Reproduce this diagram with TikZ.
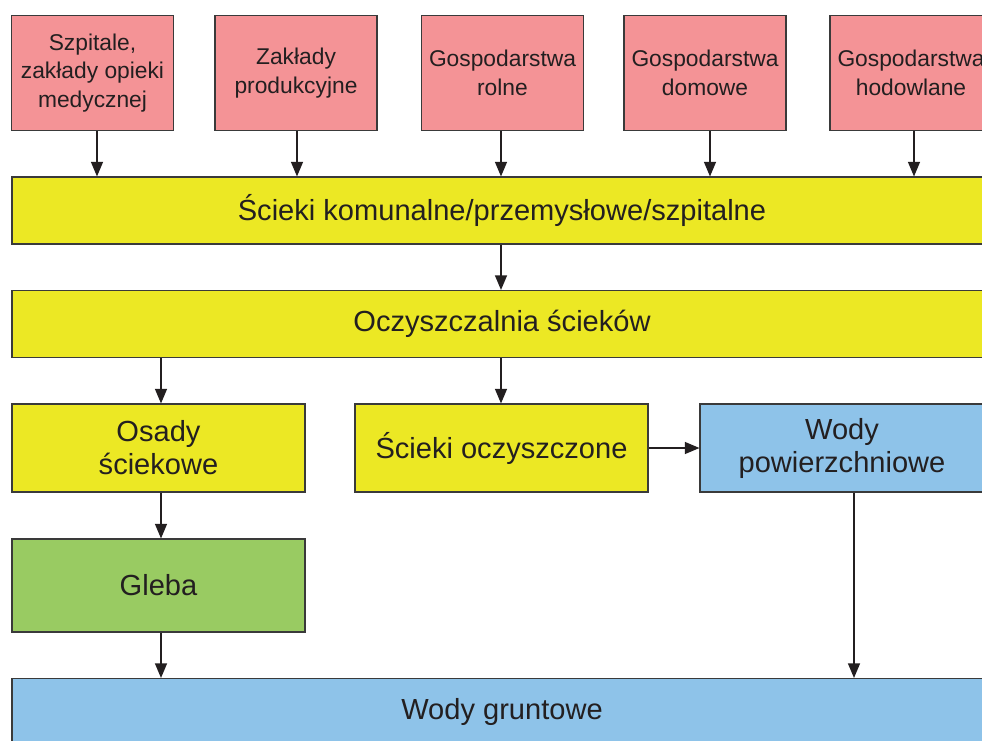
\documentclass[tikz,border=0pt]{standalone}
\usepackage{fontspec}
\setmainfont{Liberation Sans}
\usetikzlibrary{arrows.meta}
\definecolor{pinkc}{HTML}{F49396}
\definecolor{yelc}{HTML}{ECE824}
\definecolor{bluec}{HTML}{8EC3E9}
\definecolor{greenc}{HTML}{99CB62}
\definecolor{txt}{HTML}{231F20}
\definecolor{edge}{HTML}{3A3A3A}
\tikzset{
  box/.style={draw=edge, line width=0.8pt, rectangle, inner sep=0pt, align=center, text=txt},
  topbox/.style={box, fill=pinkc, minimum width=121.5pt, minimum height=86.25pt,
    font=\fontsize{17.1}{21.4}\selectfont},
  band/.style={box, minimum width=735pt, minimum height=50.25pt,
    font=\fontsize{21.8}{24.75}\selectfont},
  midbox/.style={box, minimum width=219.75pt, minimum height=66pt,
    font=\fontsize{21.8}{24.75}\selectfont},
  arr/.style={draw=txt, line width=1.1pt, -{Triangle[length=11pt,width=9pt]}},
}
\begin{document}
\begin{tikzpicture}[x=0.75pt,y=-0.75pt]
\useasboundingbox (0,0) rectangle (982,740);
\clip (0,0) rectangle (982,740);
\fill[white] (0,0) rectangle (982,740);

% top sources
\node[topbox] (b1) at (92.5,73) {Szpitale,\\zakłady opieki\\medycznej};
\node[topbox] (b2) at (296,73) {\raisebox{5.25pt}{\begin{tabular}{@{}c@{}}Zakłady\\[0.5pt]produkcyjne\end{tabular}}};
\node[topbox] (b3) at (502.5,73) {Gospodarstwa\\rolne};
\node[topbox] (b4) at (705,73) {Gospodarstwa\\domowe};
\node[topbox] (b5) at (911,73) {Gospodarstwa\\hodowlane};

% bands
\node[band, fill=yelc] (s1) at (502,210.5) {Ścieki komunalne/przemysłowe/szpitalne};
\node[band, fill=yelc] (s2) at (502,324) {Oczyszczalnia ścieków};

% middle row
\node[midbox, fill=yelc] (os) at (158.5,448) {Osady\\ściekowe};
\node[midbox, fill=yelc] (so) at (501.5,448) {Ścieki oczyszczone};
\node[midbox, fill=bluec, minimum width=213pt] (wp) at (842,448) {Wody\\powierzchniowe};

\node[midbox, fill=greenc, minimum height=69.75pt] (gl) at (158.5,585.5) {Gleba};
\node[band, fill=bluec] (wg) at (502,712) {Wody gruntowe};

% arrow x positions
\coordinate (x1) at (97,0);
\coordinate (x2) at (297,0);
\coordinate (x3) at (501,0);
\coordinate (x4) at (710,0);
\coordinate (x5) at (914,0);
\coordinate (xl) at (161,0);
\coordinate (xr) at (854,0);

\draw[arr] (b1.south -| x1) -- (s1.north -| x1);
\draw[arr] (b2.south -| x2) -- (s1.north -| x2);
\draw[arr] (b3.south -| x3) -- (s1.north -| x3);
\draw[arr] (b4.south -| x4) -- (s1.north -| x4);
\draw[arr] (b5.south -| x5) -- (s1.north -| x5);
\draw[arr] (s1.south -| x3) -- (s2.north -| x3);
\draw[arr] (s2.south -| xl) -- (os.north -| xl);
\draw[arr] (s2.south -| x3) -- (so.north -| x3);
\draw[arr] (so.east) -- (wp.west);
\draw[arr] (os.south -| xl) -- (gl.north -| xl);
\draw[arr] (gl.south -| xl) -- (wg.north -| xl);
\draw[arr] (wp.south -| xr) -- (wg.north -| xr);
\end{tikzpicture}
\end{document}
